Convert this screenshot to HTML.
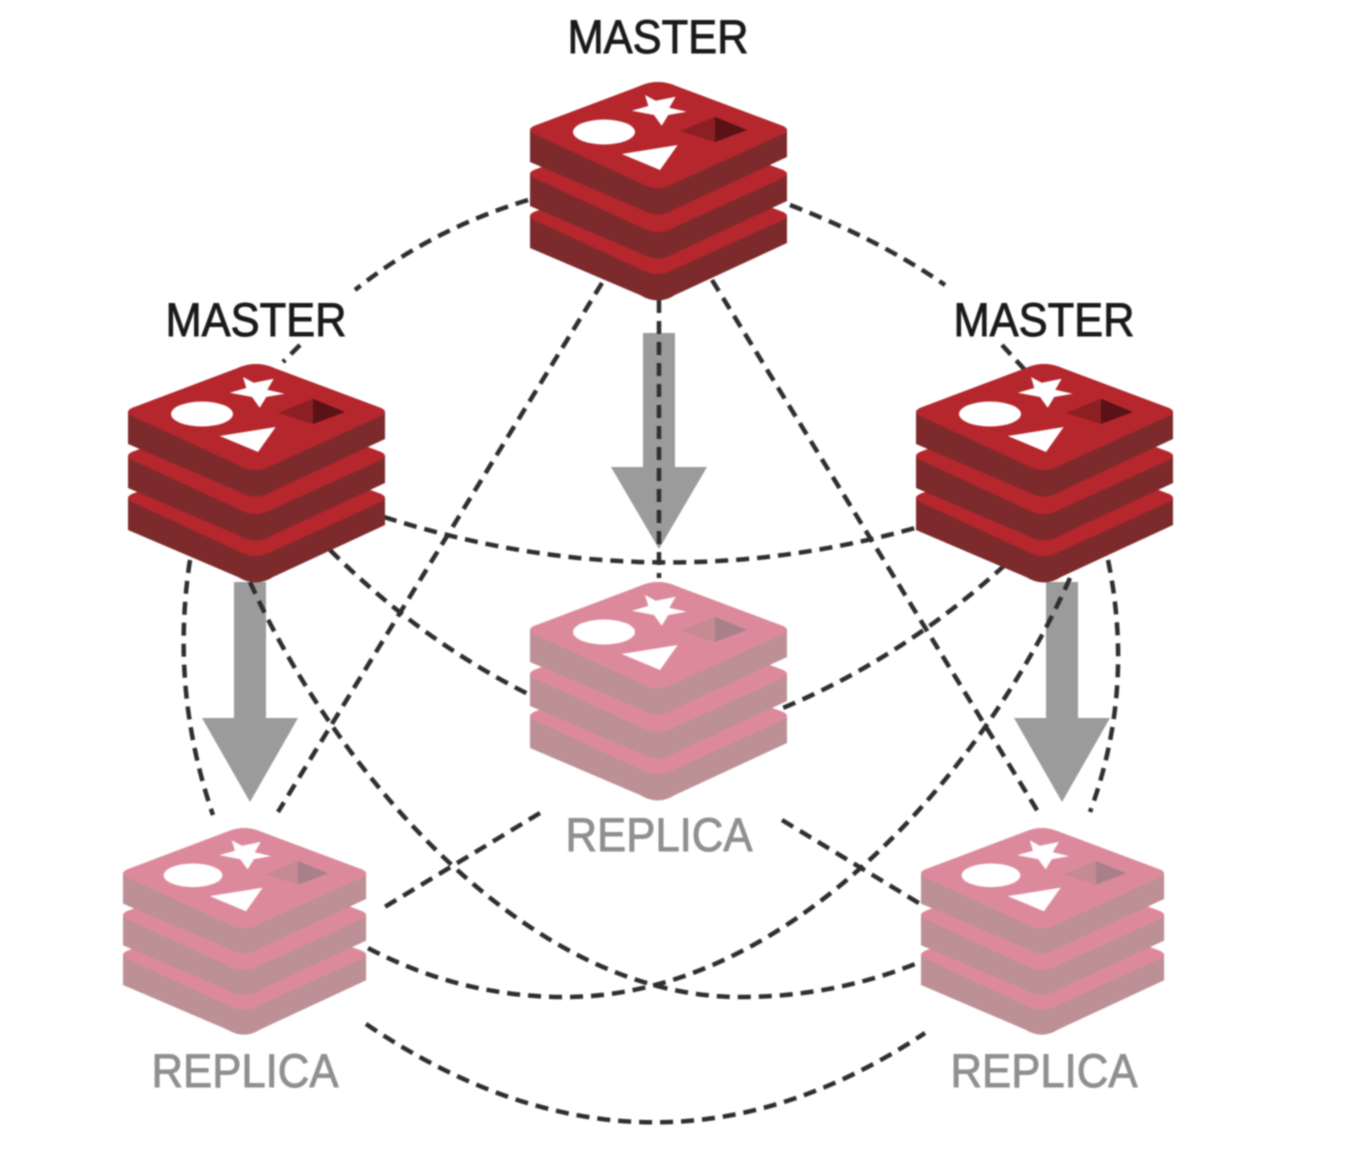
<!DOCTYPE html>
<html lang="en">
<head>
<meta charset="utf-8">
<title>Redis master and replica topology</title>
<style>
html,body{margin:0;padding:0;background:#fff;width:1346px;height:1176px;overflow:hidden}
svg{display:block;filter:blur(.7px)}
.m{--face:#b5262d;--side:#7d2a2c;--d1:#8c1f24;--d2:#5a1216}
.r{--face:#dc8a9b;--side:#bd9096;--d1:#c58a92;--d2:#a8808c}
text{font-family:"Liberation Sans",sans-serif;font-size:47px;text-anchor:middle;stroke-width:.9px}
.tm{fill:#1a1a1a;stroke:#1a1a1a}
.tr{fill:#8f8f8f;stroke:#8f8f8f}
.d{fill:none;stroke:#2e2e2e;stroke-width:4.5;stroke-dasharray:13 8}
</style>
</head>
<body>
<svg width="1346" height="1176" viewBox="0 0 1346 1176" xmlns="http://www.w3.org/2000/svg">
<defs>
<g id="layer">
<path style="fill:var(--side)" d="M0 48Q0 46 4 44L110 4Q128-4 146 4L253 44Q257 46 257 48V75L145 127Q128 138 110 127L0 80Z"/>
<path style="fill:var(--face)" d="M0 48Q0 46 4 44L110 4Q128-4 146 4L253 44Q257 46 257 48Q257 50 253 52L145 101Q128 111 110 101L4 52Q0 50 0 48Z"/>
</g>
<g id="logo">
<use href="#layer" y="86"/>
<use href="#layer" y="44"/>
<use href="#layer"/>
<ellipse cx="74" cy="50" rx="31" ry="12.5" fill="#fff"/>
<polygon fill="#fff" points="115,13 125.700,18.700 145.700,14.700 139.300,25.700 156.700,29.700 138.300,33 131.700,43.700 124,33 101.700,28.700 118.300,24"/>
<polygon fill="#fff" points="91.700,72 147.700,63 130,88"/>
<polygon style="fill:var(--d1)" points="150,49 185,34.700 185,60"/>
<polygon style="fill:var(--d2)" points="185,34.700 217,48 185,60"/>
</g>
</defs>

<g fill="#9b9b9b">
<polygon points="643,333 675,333 675,467 707,467 659,549 611,467 643,467"/>
<polygon points="234,582 266,582 266,718 298,718 250,802 202,718 234,718"/>
<polygon points="1046,582 1078,582 1078,718 1110,718 1062,802 1014,718 1046,718"/>
</g>

<g class="d">
<path d="M528 200Q430 230 355 290"/>
<path d="M300 345L283 362"/>
<path d="M790 205Q880 240 945 285"/>
<path d="M1002 345L1025 370"/>
<path d="M190 560Q170 690 213 815"/>
<path d="M1108 560Q1135 690 1090 812"/>
<path d="M602 283L278 812"/>
<path d="M712 280L1040 815"/>
<path d="M659 300V578"/>
<path d="M384 517Q650 602 915 528"/>
<path d="M330 550Q420 640 530 695"/>
<path d="M1005 565Q900 660 778 710"/>
<path d="M250 582C330 760 520 997 740 997Q835 997 920 962"/>
<path d="M1070 578C985 770 790 997 565 997Q460 997 366 947"/>
<path d="M540 813L383 908"/>
<path d="M782 820L922 905"/>
<path d="M366 1024Q650 1216 925 1033"/>
</g>

<use href="#logo" class="m" x="530" y="82"/>
<use href="#logo" class="m" x="128" y="364"/>
<use href="#logo" class="m" x="916" y="364"/>
<use href="#logo" class="r" x="530" y="582"/>
<use href="#logo" class="r" transform="translate(123 828) scale(.946)"/>
<use href="#logo" class="r" transform="translate(921 828) scale(.946)"/>

<text class="tm" x="658" y="53" textLength="181" lengthAdjust="spacingAndGlyphs">MASTER</text>
<text class="tm" x="256" y="336" textLength="181" lengthAdjust="spacingAndGlyphs">MASTER</text>
<text class="tm" x="1044" y="336" textLength="181" lengthAdjust="spacingAndGlyphs">MASTER</text>
<text class="tr" x="659" y="851" textLength="187" lengthAdjust="spacingAndGlyphs">REPLICA</text>
<text class="tr" x="245" y="1087" textLength="187" lengthAdjust="spacingAndGlyphs">REPLICA</text>
<text class="tr" x="1044" y="1087" textLength="187" lengthAdjust="spacingAndGlyphs">REPLICA</text>
</svg>
</body>
</html>
